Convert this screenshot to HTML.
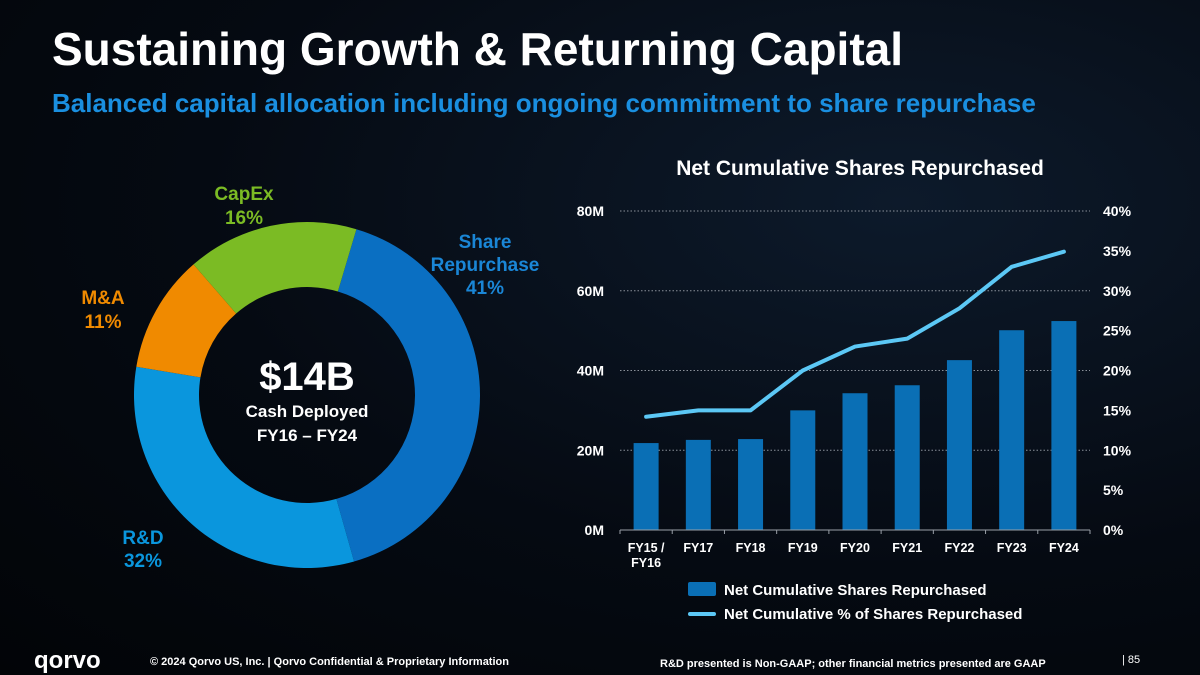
<!DOCTYPE html>
<html><head><meta charset="utf-8"><style>
body{margin:0;width:1200px;height:675px;overflow:hidden;background:radial-gradient(ellipse at 75% 30%,#0d1a2b 0%,#050a12 55%,#020407 100%);font-family:"Liberation Sans",sans-serif;color:#fff;position:relative}
.t{position:absolute;white-space:nowrap;font-weight:bold}
</style></head><body>
<div class="t" style="left:52px;top:22px;font-size:46px">Sustaining Growth &amp; Returning Capital</div>
<div class="t" style="left:52px;top:88px;font-size:26px;color:#1a8fe0">Balanced capital allocation including ongoing commitment to share repurchase</div>
<svg width="1200" height="675" style="position:absolute;left:0;top:0">
<g id="donut"></g>
<text x="307" y="390" text-anchor="middle" font-size="40" font-weight="bold" fill="#fff">$14B</text>
<text x="307" y="417" text-anchor="middle" font-size="17" font-weight="bold" fill="#fff">Cash Deployed</text>
<text x="307" y="441" text-anchor="middle" font-size="17" font-weight="bold" fill="#fff">FY16 – FY24</text>
<g font-weight="bold" font-size="19" text-anchor="middle">
<text x="244" y="200" fill="#7bbb24">CapEx</text><text x="244" y="224" fill="#7bbb24">16%</text>
<text x="485" y="248" fill="#1a86d6">Share</text><text x="485" y="271" fill="#1a86d6">Repurchase</text><text x="485" y="294" fill="#1a86d6">41%</text>
<text x="103" y="304" fill="#f08a00">M&amp;A</text><text x="103" y="328" fill="#f08a00">11%</text>
<text x="143" y="544" fill="#0a96dd">R&amp;D</text><text x="143" y="567" fill="#0a96dd">32%</text>
</g>
<text x="860" y="175" text-anchor="middle" font-size="21" font-weight="bold" fill="#fff">Net Cumulative Shares Repurchased</text>
<g id="bar"></g>
<rect x="688" y="582" width="28" height="14" rx="2" fill="#0a6fb5"/>
<text x="724" y="595" font-size="15" font-weight="bold" fill="#fff">Net Cumulative Shares Repurchased</text>
<line x1="690" y1="614" x2="714" y2="614" stroke="#5cc8f5" stroke-width="4" stroke-linecap="round"/>
<text x="724" y="619" font-size="15" font-weight="bold" fill="#fff">Net Cumulative % of Shares Repurchased</text>
<text x="34" y="668" font-size="24" font-weight="bold" fill="#fff">qorvo</text>
<text x="150" y="665" font-size="11" font-weight="bold" fill="#fff">© 2024 Qorvo US, Inc. | Qorvo Confidential &amp; Proprietary Information</text>
<text x="660" y="667" font-size="11" font-weight="bold" fill="#fff">R&amp;D presented is Non-GAAP; other financial metrics presented are GAAP</text>
<text x="1122" y="663" font-size="11" fill="#fff">| 85</text>
</svg>
<script>
const NS="http://www.w3.org/2000/svg";
const sliceNames=["Share Repurchase","R&D","M&A","CapEx"];
const slicePct=[41,32,11,16];
const sliceColors=["#0a6fc2","#0a96dd","#f08a00","#7bbb24"];
const categories=["FY15 /|FY16","FY17","FY18","FY19","FY20","FY21","FY22","FY23","FY24"];
const sharesM=[21.8,22.6,22.8,30,34.3,36.3,42.6,50.1,52.4];
const pctShares=[14.2,15,15,20,23,24,27.8,33,34.9];
const leftTicks=["0M","20M","40M","60M","80M"];
const rightTicks=["0%","5%","10%","15%","20%","25%","30%","35%","40%"];
function mk(t,a,p){const e=document.createElementNS(NS,t);for(const k in a)e.setAttribute(k,a[k]);p.appendChild(e);return e;}
// donut
const dg=document.getElementById('donut');const cx=307,cy=395,R=173,r=108;
let ang=16.6;
slicePct.forEach((p,i)=>{const a0=ang*Math.PI/180,a1=(ang+p*3.6)*Math.PI/180;ang+=p*3.6;
const pt=(rr,a)=>[cx+rr*Math.sin(a),cy-rr*Math.cos(a)];const lg=p*3.6>180?1:0;
const [x0,y0]=pt(R,a0),[x1,y1]=pt(R,a1),[x2,y2]=pt(r,a1),[x3,y3]=pt(r,a0);
const e=mk('path',{d:`M${x0},${y0}A${R},${R} 0 ${lg} 1 ${x1},${y1}L${x2},${y2}A${r},${r} 0 ${lg} 0 ${x3},${y3}Z`,fill:sliceColors[i]},dg);

});
// bar chart
const bg=document.getElementById('bar');const X0=620,X1=1090,Y0=530,Y1=211;
const yL=v=>Y0-(v/80)*(Y0-Y1);const yR=v=>Y0-(v/40)*(Y0-Y1);
const step=(X1-X0)/categories.length;const xc=i=>X0+step*(i+0.5);
[20,40,60,80].forEach(v=>{const l=mk('line',{x1:X0,x2:X1,y1:yL(v),y2:yL(v),stroke:'#8a9099','stroke-dasharray':'1.5 2','stroke-width':1},bg);

});
leftTicks.forEach((t,i)=>{const e=mk('text',{x:604,y:yL(i*20)+5,'text-anchor':'end','font-size':14,'font-weight':'bold',fill:'#fff'},bg);e.textContent=t;

});
rightTicks.forEach((t,i)=>{const e=mk('text',{x:1103,y:yR(i*5)+5,'font-size':14,'font-weight':'bold',fill:'#fff'},bg);e.textContent=t;

});
sharesM.forEach((v,i)=>{const b=mk('rect',{x:xc(i)-12.5,y:yL(v),width:25,height:Y0-yL(v),fill:'#0a6fb5'},bg);

});
const ax=mk('line',{x1:X0,x2:X1,y1:Y0,y2:Y0,stroke:'#9aa0a8','stroke-width':1},bg);


for(let i=0;i<=categories.length;i++){const tk=mk('line',{x1:X0+step*i,x2:X0+step*i,y1:Y0,y2:Y0+4,stroke:'#9aa0a8'},bg);

}
categories.forEach((c,i)=>{c.split('|').forEach((s,j)=>{const e=mk('text',{x:xc(i),y:552+j*15,'text-anchor':'middle','font-size':12.5,'font-weight':'bold',fill:'#fff'},bg);e.textContent=s;

});});
const ln=mk('polyline',{points:pctShares.map((v,i)=>xc(i)+','+yR(v)).join(' '),fill:'none',stroke:'#5cc8f5','stroke-width':4,'stroke-linejoin':'round','stroke-linecap':'round'},bg);


</script>
</body></html>
